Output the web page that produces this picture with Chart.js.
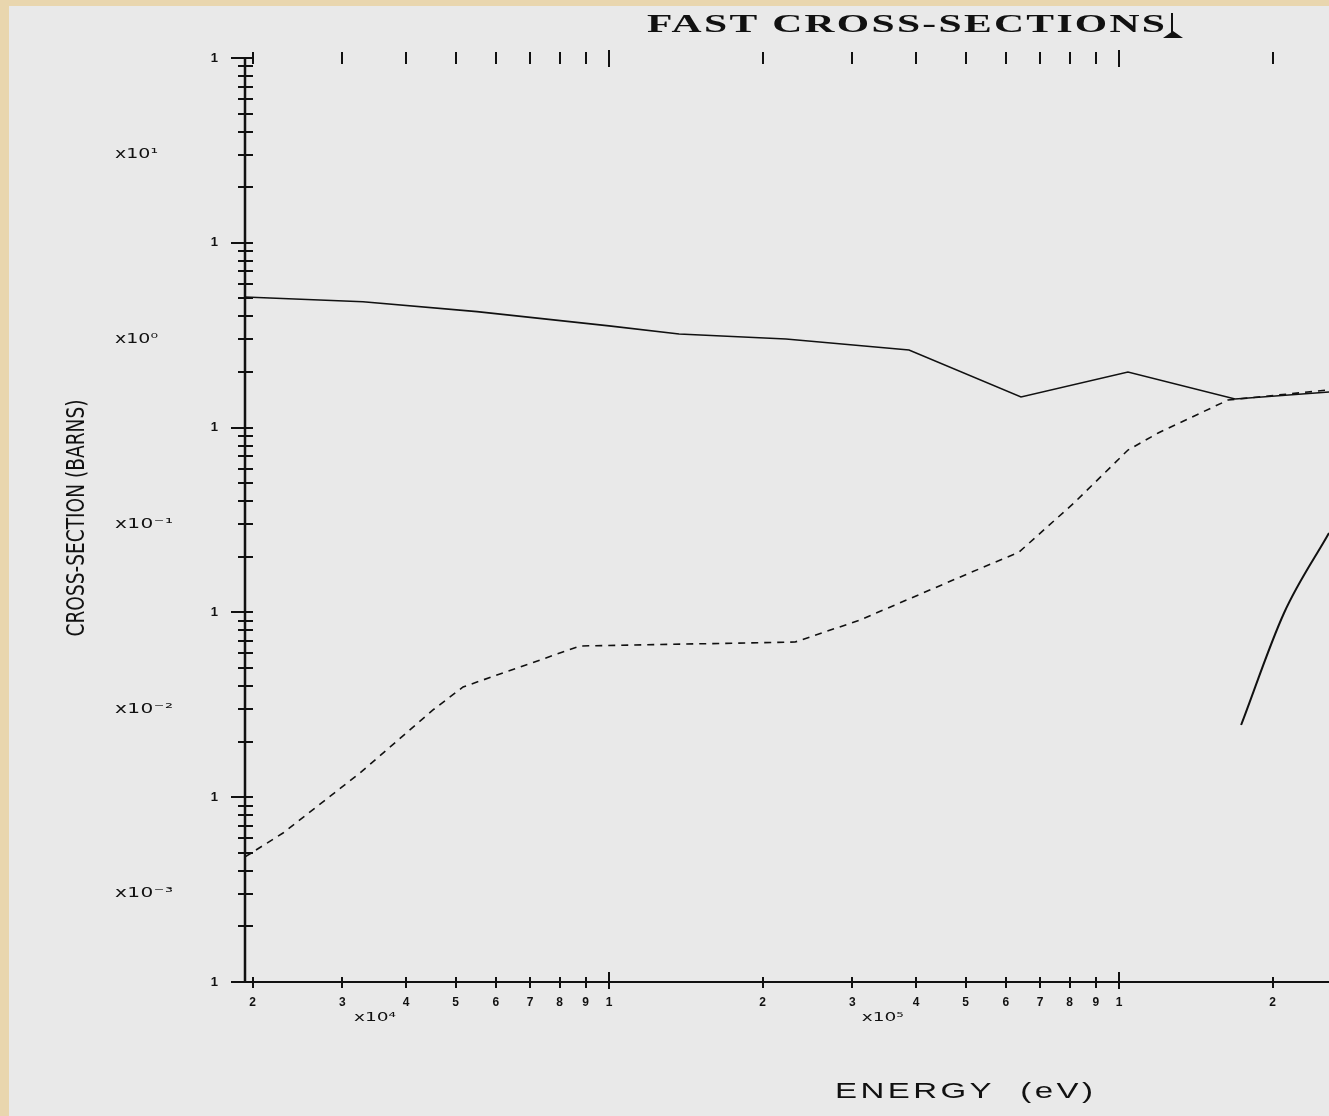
<!DOCTYPE html>
<html><head><meta charset="utf-8">
<script src="https://cdn.jsdelivr.net/npm/chart.js@4.4.1/dist/chart.umd.min.js"></script>
<style>
html,body{margin:0;padding:0;background:#e9d6ae;overflow:hidden}
#wrap{position:absolute;left:0;top:0;width:1329px;height:1116px}
canvas{display:block}
</style></head><body>
<div id="wrap"><canvas id="c" width="1329" height="1116"></canvas></div>
<script>
// ---- chart text ----
const TITLE = "FAST CROSS-SECTIONS";
const X_TITLE = "ENERGY  (eV)";
const Y_TITLE = "CROSS-SECTION (BARNS)";

// ---- axis ranges ----
const X_MIN = 19330, X_MAX = 2.58e6;
const Y_MIN = 1e-4, Y_MAX = 10;

// ---- tick values and labels ----
const X_TICKS = [2e4,3e4,4e4,5e4,6e4,7e4,8e4,9e4,1e5,2e5,3e5,4e5,5e5,6e5,7e5,8e5,9e5,1e6,2e6];
const X_TICK_LABELS = ["2","3","4","5","6","7","8","9","1","2","3","4","5","6","7","8","9","1","2"];
const X_EXP_LABELS = ["x10\u2074","x10\u2075"];
const X_EXP_AT = [34750, 344000];
const Y_DECADES = [1e1,1e0,1e-1,1e-2,1e-3,1e-4];
const Y_DECADE_LABELS = ["1","1","1","1","1","1"];
const Y_EXP_LABELS = ["x10\u00b9","x10\u2070","x10\u207b\u00b9","x10\u207b\u00b2","x10\u207b\u00b3"];
const Y_EXP_AT = [3,0.3,0.03,0.003,0.0003];

// ---- series: energy (eV) and cross-section (barns) ----
const solidE = [19330,32930,55100,100000,137200,222300,387400,642300,1041000,1688000,2580000];
const solidS = [0.509,0.480,0.424,0.355,0.321,0.3016,0.263,0.1464,0.200,0.1429,0.1558];

const dashE = [19330,22950,32490,45170,51730,87730,231600,310600,472600,636600,816000,1041000,1193000,1636000,2580000];
const dashS = [4.75e-4,6.40e-4,1.352e-3,2.965e-3,3.95e-3,6.58e-3,6.91e-3,9.10e-3,0.01497,0.0212,0.0391,0.0756,0.0935,0.141,0.160];

const steepE = [1735000,2106000,2580000];
const steepS = [2.459e-3,9.93e-3,2.69e-2];

function pts(xs, ys){ return xs.map((x,i)=>({x:x,y:ys[i]})); }

const Y_TICK_VALUES = [];
for (let e=-4; e<=1; e++){ for (let m=1; m<=9; m++){ const v = m*Math.pow(10,e); if (v <= Y_MAX*1.0001) Y_TICK_VALUES.push(v); } }

// draw text with a horizontal stretch hs, then letter spacing to reach target width
function spreadText(ctx, text, font, x, y, width, hs){
  ctx.font = font;
  ctx.textAlign = 'left';
  const hasLS = ('letterSpacing' in ctx);
  if (hasLS) ctx.letterSpacing = '0px';
  const w = ctx.measureText(text).width;
  let s = hs;
  if (!hasLS || w * hs > width) s = width / w;
  ctx.save();
  ctx.translate(x, y); ctx.scale(s, 1);
  if (hasLS){
    const ls = Math.max(0, (width / s - w) / (text.length - 1));
    ctx.letterSpacing = ls + 'px';
  }
  ctx.fillText(text, 0, 0);
  if (hasLS) ctx.letterSpacing = '0px';
  ctx.restore();
}

const decor = {
  id: 'decor',
  beforeDraw(chart){
    const ctx = chart.ctx;
    ctx.save();
    ctx.fillStyle = '#e9d6ae';
    ctx.fillRect(0,0,chart.width,chart.height);
    ctx.fillStyle = '#e9e9e9';
    ctx.fillRect(9,6,chart.width-9,chart.height-6);
    ctx.restore();
  },
  afterDraw(chart){
    const ctx = chart.ctx, xs = chart.scales.x, ys = chart.scales.y, a = chart.chartArea;
    ctx.save();
    ctx.strokeStyle = '#111';
    ctx.fillStyle = '#111';
    // left axis line
    ctx.lineWidth = 2.5;
    ctx.beginPath(); ctx.moveTo(a.left, a.top); ctx.lineTo(a.left, a.bottom+1); ctx.stroke();
    // bottom axis line
    ctx.lineWidth = 2;
    ctx.beginPath(); ctx.moveTo(a.left-14, a.bottom); ctx.lineTo(a.right, a.bottom); ctx.stroke();
    // y ticks
    ctx.lineWidth = 2;
    Y_TICK_VALUES.forEach(v=>{
      const y = Math.round(ys.getPixelForValue(v));
      const major = Math.abs(Math.log10(v) - Math.round(Math.log10(v))) < 1e-6;
      ctx.beginPath();
      ctx.moveTo(a.left - (major?14:7), y); ctx.lineTo(a.left + 8, y); ctx.stroke();
    });
    // x ticks (bottom crossing, top free-standing)
    X_TICKS.forEach(v=>{
      const x = Math.round(xs.getPixelForValue(v));
      const major = Math.abs(Math.log10(v) - Math.round(Math.log10(v))) < 1e-6;
      ctx.lineWidth = 2;
      ctx.beginPath();
      ctx.moveTo(x, a.bottom - (major?10:5)); ctx.lineTo(x, a.bottom + (major?7:6)); ctx.stroke();
      ctx.beginPath();
      ctx.moveTo(x, a.top - (major?8:6)); ctx.lineTo(x, a.top + (major?9:6)); ctx.stroke();
    });
    // y exponent labels
    ctx.textBaseline = 'middle';
    Y_EXP_LABELS.forEach((t,i)=>{
      spreadText(ctx, t, '14px "DejaVu Sans Condensed", "DejaVu Sans", sans-serif',
        115, ys.getPixelForValue(Y_EXP_AT[i]), i < 2 ? 43 : 58, 1.6);
    });
    // x exponent labels
    X_EXP_LABELS.forEach((t,i)=>{
      spreadText(ctx, t, '13px "DejaVu Sans Condensed", "DejaVu Sans", sans-serif',
        xs.getPixelForValue(X_EXP_AT[i]) - 21, a.bottom + 36, 42, 1.6);
    });
    // title
    ctx.textBaseline = 'alphabetic';
    spreadText(ctx, TITLE, 'bold 26px "Liberation Serif", "Times New Roman", serif', 647, 32, 518, 1.6);
    // small marker after title
    ctx.lineWidth = 2;
    ctx.beginPath(); ctx.moveTo(1172, 13); ctx.lineTo(1172, 35); ctx.stroke();
    ctx.beginPath(); ctx.moveTo(1163, 38); ctx.lineTo(1183, 38); ctx.lineTo(1173, 31); ctx.closePath(); ctx.fill();
    // x title
    spreadText(ctx, X_TITLE, '22px "Liberation Sans", Arial, sans-serif', 835, 1098, 258, 1.5);
    // y title (rotated, condensed)
    ctx.font = '25px "DejaVu Sans Condensed", "DejaVu Sans", sans-serif';
    const s = 237 / ctx.measureText(Y_TITLE).width;
    ctx.textAlign = 'center'; ctx.textBaseline = 'middle';
    ctx.save(); ctx.translate(77, 518); ctx.rotate(-Math.PI/2); ctx.scale(s,1); ctx.fillText(Y_TITLE, 0, 0); ctx.restore();
    ctx.restore();
  }
};

new Chart(document.getElementById('c'), {
  type: 'line',
  data: {
    datasets: [
      { data: pts(solidE, solidS), borderColor: '#111', borderWidth: 1.6, pointRadius: 0, tension: 0, fill: false },
      { data: pts(dashE, dashS), borderColor: '#111', borderWidth: 1.6, borderDash: [7,6], pointRadius: 0, tension: 0, fill: false },
      { data: pts(steepE, steepS), borderColor: '#111', borderWidth: 2, pointRadius: 0, tension: 0.4, cubicInterpolationMode: 'monotone', fill: false }
    ]
  },
  options: {
    responsive: false,
    animation: false,
    events: [],
    layout: { padding: { left: 0, right: 0, top: 58, bottom: 0 } },
    plugins: { legend: { display: false }, tooltip: { enabled: false }, title: { display: false } },
    scales: {
      x: {
        type: 'logarithmic', position: 'bottom', min: X_MIN, max: X_MAX,
        grid: { display: false, drawTicks: false }, border: { display: false },
        afterBuildTicks: sc => { sc.ticks = X_TICKS.map(v=>({value:v})); },
        afterFit: sc => { sc.height = 134; },
        ticks: {
          autoSkip: false, maxRotation: 0, padding: 13, color: '#111',
          font: { family: '"Liberation Sans", Arial, sans-serif', size: 12, weight: 'bold' },
          callback: (v, i) => X_TICK_LABELS[i]
        }
      },
      y: {
        type: 'logarithmic', position: 'left', min: Y_MIN, max: Y_MAX,
        grid: { display: false, drawTicks: false }, border: { display: false },
        afterBuildTicks: sc => { sc.ticks = Y_TICK_VALUES.map(v=>({value:v})); },
        afterFit: sc => { sc.width = 245; },
        ticks: {
          autoSkip: false, padding: 27, color: '#111',
          font: { family: '"Liberation Sans", Arial, sans-serif', size: 13, weight: 'bold' },
          callback: (v) => { const k = Y_DECADES.findIndex(d => Math.abs(d - v) / d < 1e-6); return k >= 0 ? Y_DECADE_LABELS[k] : ''; }
        }
      }
    }
  },
  plugins: [decor]
});
</script>
</body></html>
